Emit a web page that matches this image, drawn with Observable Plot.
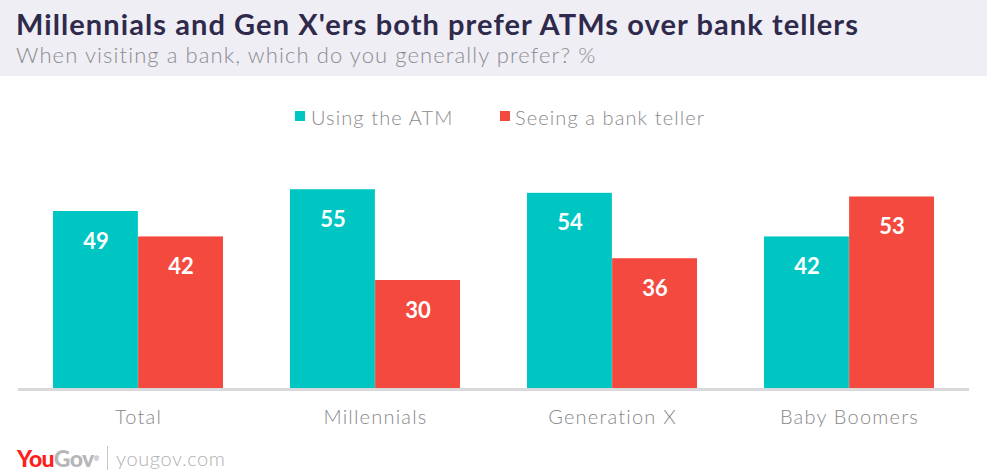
<!DOCTYPE html>
<html>
<head>
<meta charset="utf-8">
<script src="https://cdn.jsdelivr.net/npm/d3@7"></script>
<script src="https://cdn.jsdelivr.net/npm/@observablehq/plot@0.6"></script>
<style>
  html, body { margin: 0; padding: 0; background: #fff; }
  #page { position: relative; width: 987px; height: 476px; overflow: hidden; font-family: "Lato", "Open Sans", sans-serif; }
  #header { position: absolute; left: 0; top: 0; width: 987px; height: 76px; background: #efeef5; }
  #title { position: absolute; left: 16px; top: 7px; font-size: 29px; font-weight: 700; color: #2f2a4c; white-space: nowrap; line-height: 34px; letter-spacing: 1.08px; }
  #subtitle { position: absolute; left: 16px; top: 42px; font-size: 22px; font-weight: 300; color: #8c8c90; white-space: nowrap; line-height: 26px; letter-spacing: 1.1px; }
  #legend { position: absolute; top: 105px; left: 0; width: 987px; height: 26px; }
  .sw { position: absolute; top: 6px; width: 10px; height: 10px; }
  .lt { position: absolute; top: 0; font-size: 20px; font-weight: 300; color: #8a8a8e; line-height: 24px; white-space: nowrap; letter-spacing: 1.1px; }
  #chart { position: absolute; left: 0; top: 130px; }
  #chart g[aria-label="x-axis tick label"] text { letter-spacing: 1.2px; }
  #footer { position: absolute; left: 17px; top: 444px; height: 28px; }
  .you { position: absolute; left: 0; top: 0; font-size: 23px; font-weight: 900; color: #ff1e1e; letter-spacing: -0.6px; line-height: 28px; white-space: nowrap; }
  .gov { color: #b5b5ba; }
  .reg { font-size: 7px; vertical-align: top; color: #b5b5ba; }
  .bar { position: absolute; left: 90px; top: 2px; width: 1px; height: 24px; background: #c8c8cc; }
  .url { position: absolute; left: 99px; top: 0; font-size: 20px; font-weight: 300; color: #b0b0b5; line-height: 28px; white-space: nowrap; letter-spacing: 0.6px; }
</style>
</head>
<body>
<div id="page">
  <div id="header">
    <div id="title">Millennials and Gen X'ers both prefer ATMs over bank tellers</div>
    <div id="subtitle">When visiting a bank, which do you generally prefer? %</div>
  </div>
  <div id="legend"></div>
  <div id="chart"></div>
  <div id="footer">
    <div class="you">You<span class="gov">Gov</span><span class="reg">®</span></div>
    <div class="bar"></div>
    <div class="url">yougov.com</div>
  </div>
</div>
<script>
const categories = ["Total", "Millennials", "Generation X", "Baby Boomers"];
const series = ["Using the ATM", "Seeing a bank teller"];
const atmValues = [49, 55, 54, 42];
const tellerValues = [42, 30, 36, 53];
const colors = ["#00c6c3", "#f4493f"];

const atmData = categories.map((c, i) => ({category: c, series: series[0], value: atmValues[i]}));
const tellerData = categories.map((c, i) => ({category: c, series: series[1], value: tellerValues[i]}));

// legend
const legend = document.getElementById("legend");
const legendPos = [{sw: 295, tx: 311}, {sw: 500, tx: 515}];
series.forEach((s, i) => {
  const sw = document.createElement("div");
  sw.className = "sw";
  sw.style.left = legendPos[i].sw + "px";
  sw.style.background = colors[i];
  legend.appendChild(sw);
  const t = document.createElement("div");
  t.className = "lt";
  t.style.left = legendPos[i].tx + "px";
  t.textContent = s;
  legend.appendChild(t);
});

const W = 987, H = 320, ML = 18, MR = 18, MB = 61;
const padInner = 0.284, padOuter = 0.142;
const step = (W - ML - MR) / (categories.length - padInner + 2 * padOuter);
const half = step * (1 - padInner) / 2;
const pxPerUnit = 178 / 49;
const MT = (H - MB) - 60 * pxPerUnit;

const labelFont = {fontSize: 22, fontWeight: 700, fill: "white", fontFamily: "Lato, sans-serif"};

const chart = Plot.plot({
  width: W,
  height: H,
  marginLeft: ML,
  marginRight: MR,
  marginBottom: MB,
  marginTop: MT,
  style: {fontFamily: "Lato, sans-serif", background: "white"},
  x: {domain: categories, paddingInner: padInner, paddingOuter: padOuter, label: null},
  y: {domain: [0, 60], axis: null},
  marks: [
    Plot.barY(atmData, {x: "category", y: "value", fill: colors[0], insetRight: half}),
    Plot.barY(tellerData, {x: "category", y: "value", fill: colors[1], insetLeft: half}),
    Plot.text(atmData, {x: "category", y: "value", text: d => String(d.value), dx: -half / 2, dy: 30, ...labelFont}),
    Plot.text(tellerData, {x: "category", y: "value", text: d => String(d.value), dx: half / 2, dy: 30, ...labelFont}),
    Plot.ruleY([0], {stroke: "#d9d9dc", strokeWidth: 3}),
    Plot.axisX({tickSize: 0, tickPadding: 20, fontSize: 20, fontWeight: 300, fill: "#88888c", label: null})
  ]
});
document.getElementById("chart").appendChild(chart);
</script>
</body>
</html>
